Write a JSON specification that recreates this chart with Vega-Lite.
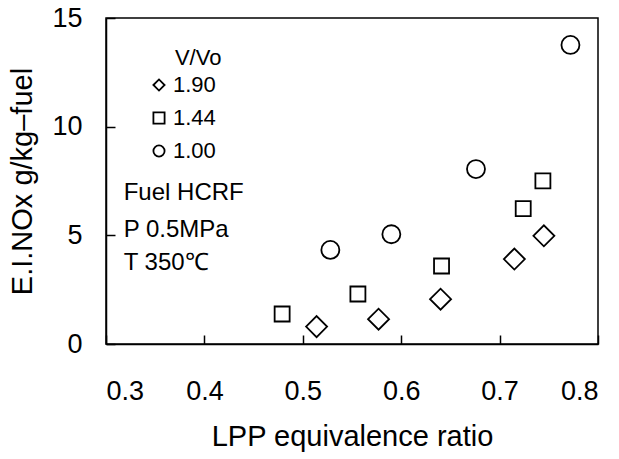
{
  "$schema": "https://vega.github.io/schema/vega-lite/v6.json",
  "width": 492,
  "height": 326,
  "autosize": {"type": "none"},
  "padding": {"left": 106, "top": 18, "right": 21, "bottom": 115},
  "background": "white",
  "config": {
    "font": "Liberation Sans",
    "view": {"stroke": "black", "strokeWidth": 1.5},
    "axis": {
      "grid": false,
      "zindex": 1,
      "domainColor": "black",
      "domainWidth": 1.5,
      "tickColor": "black",
      "tickWidth": 1.5,
      "tickSize": -9,
      "labelColor": "black",
      "labelFontSize": 27,
      "titleColor": "black",
      "titleFontSize": 29,
      "titleFontWeight": "normal"
    }
  },
  "datasets": {
    "points": [
      {"phi": 0.514, "einox": 0.80, "V_Vo": "1.90"},
      {"phi": 0.577, "einox": 1.14, "V_Vo": "1.90"},
      {"phi": 0.640, "einox": 2.06, "V_Vo": "1.90"},
      {"phi": 0.715, "einox": 3.91, "V_Vo": "1.90"},
      {"phi": 0.745, "einox": 4.98, "V_Vo": "1.90"},
      {"phi": 0.479, "einox": 1.38, "V_Vo": "1.44"},
      {"phi": 0.556, "einox": 2.30, "V_Vo": "1.44"},
      {"phi": 0.641, "einox": 3.59, "V_Vo": "1.44"},
      {"phi": 0.724, "einox": 6.23, "V_Vo": "1.44"},
      {"phi": 0.744, "einox": 7.51, "V_Vo": "1.44"},
      {"phi": 0.528, "einox": 4.33, "V_Vo": "1.00"},
      {"phi": 0.590, "einox": 5.05, "V_Vo": "1.00"},
      {"phi": 0.676, "einox": 8.05, "V_Vo": "1.00"},
      {"phi": 0.772, "einox": 13.76, "V_Vo": "1.00"}
    ],
    "title": [
      {"phi": 0.370, "einox": 13.16, "label": "V/Vo"}
    ],
    "notes": [
      {"phi": 0.318, "einox": 6.95, "label": "Fuel HCRF"},
      {"phi": 0.318, "einox": 5.25, "label": "P 0.5MPa"},
      {"phi": 0.318, "einox": 3.73, "label": "T 350℃"}
    ]
  },
  "encoding": {
    "x": {
      "field": "phi",
      "type": "quantitative",
      "scale": {"domain": [0.3, 0.8], "nice": false, "zero": false},
      "axis": {"values": [0.3, 0.4, 0.5, 0.6, 0.7, 0.8], "format": ".1f", "labelPadding": 43, "titlePadding": 18},
      "title": "LPP equivalence ratio"
    },
    "y": {
      "field": "einox",
      "type": "quantitative",
      "scale": {"domain": [0, 15], "nice": false},
      "axis": {"values": [0, 5, 10, 15], "labelPadding": 33, "titlePadding": 14},
      "title": "E.I.NOx g/kg–fuel"
    }
  },
  "layer": [
    {
      "data": {"name": "points"},
      "transform": [{"filter": "datum.V_Vo == '1.90'"}],
      "mark": {"type": "point", "filled": false, "stroke": "black", "strokeWidth": 1.8, "opacity": 1, "size": 441},
      "encoding": {
        "shape": {
          "field": "V_Vo",
          "type": "nominal",
          "scale": {"domain": ["1.90", "1.44", "1.00"], "range": ["diamond", "square", "circle"]},
          "legend": {
            "title": null,
            "orient": "none",
            "legendX": 42,
            "legendY": 56,
            "padding": 0,
            "labelFontSize": 22,
            "labelColor": "black",
            "labelOffset": 3,
            "rowPadding": 11,
            "symbolSize": 125,
            "symbolStrokeColor": "black",
            "symbolStrokeWidth": 1.8,
            "symbolFillColor": "transparent"
          }
        }
      }
    },
    {
      "data": {"name": "points"},
      "transform": [{"filter": "datum.V_Vo == '1.44'"}],
      "mark": {"type": "point", "filled": false, "stroke": "black", "strokeWidth": 1.8, "opacity": 1, "size": 225},
      "encoding": {
        "shape": {"field": "V_Vo", "type": "nominal"}
      }
    },
    {
      "data": {"name": "points"},
      "transform": [{"filter": "datum.V_Vo == '1.00'"}],
      "mark": {"type": "point", "filled": false, "stroke": "black", "strokeWidth": 1.8, "opacity": 1, "size": 324},
      "encoding": {
        "shape": {"field": "V_Vo", "type": "nominal"}
      }
    },
    {
      "data": {"name": "title"},
      "mark": {"type": "text", "align": "left", "baseline": "middle", "color": "black", "fontSize": 22},
      "encoding": {
        "text": {"field": "label"}
      }
    },
    {
      "data": {"name": "notes"},
      "mark": {"type": "text", "align": "left", "baseline": "middle", "color": "black", "fontSize": 24},
      "encoding": {
        "text": {"field": "label"}
      }
    }
  ]
}
